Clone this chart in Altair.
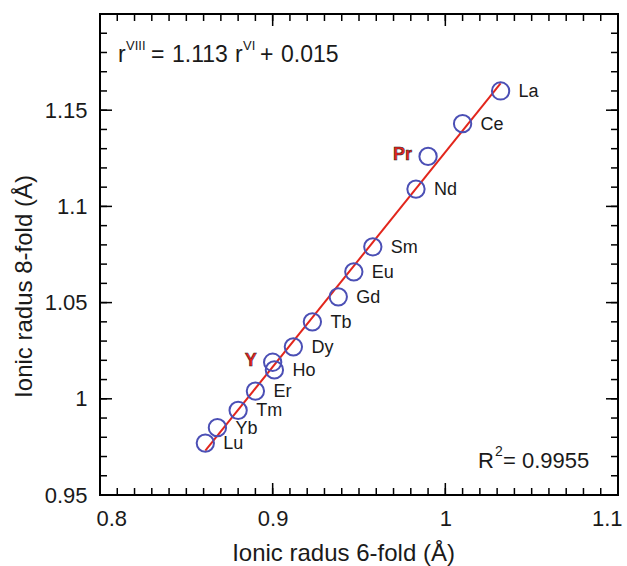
import altair as alt
import pandas as pd
import numpy as np

FONT = "Liberation Sans"

# ---- data ----
elements = ["La", "Ce", "Pr", "Nd", "Sm", "Eu", "Gd", "Tb", "Dy", "Ho", "Er", "Tm", "Yb", "Lu", "Y"]
r6 = [1.032, 1.010, 0.990, 0.983, 0.958, 0.947, 0.938, 0.923, 0.912, 0.901, 0.890, 0.880, 0.868, 0.861, 0.900]
r8 = [1.160, 1.143, 1.126, 1.109, 1.079, 1.066, 1.053, 1.040, 1.027, 1.015, 1.004, 0.994, 0.985, 0.977, 1.019]
highlighted = ["Pr", "Y"]

fit_x = [0.861, 1.032]
fit_y = [0.973, 1.164]

x_major = [0.8, 0.9, 1.0, 1.1]
y_major = [0.95, 1.0, 1.05, 1.1, 1.15]
x_minor = [round(v, 2) for v in np.arange(0.81, 1.1, 0.01)]
y_minor = [round(v, 2) for v in np.arange(0.96, 1.2, 0.01)]

X_DOMAIN = [0.8, 1.1]
Y_DOMAIN = [0.95, 1.2]

W, H = 518, 481
MAJ, MIN = 12, 7

pts = pd.DataFrame({"el": elements, "r6": r6, "r8": r8})
pts["hl"] = pts["el"].isin(highlighted)
fit = pd.DataFrame({"x": fit_x, "y": fit_y})

xs = alt.Scale(domain=X_DOMAIN, nice=False, zero=False)
ys = alt.Scale(domain=Y_DOMAIN, nice=False, zero=False)

base = alt.Chart(pts)

points = base.mark_point(shape="circle", filled=False, size=300, strokeWidth=2,
                         color="#4b4fb5", opacity=1).encode(
    x=alt.X("r6:Q", scale=xs,
            axis=alt.Axis(values=x_major, format="~g", title="Ionic radus 6-fold (Å)",
                          ticks=False, tickSize=0, domain=False, grid=False,
                          labelFont=FONT, labelFontSize=22, labelColor="#1a1a1a",
                          labelPadding=13, labelFlush=True, labelFlushOffset=4,
                          titleFont=FONT, titleFontSize=24, titleFontWeight="normal",
                          titleColor="#1a1a1a", titleX=243, titleY=65,
                          titleAlign="center", titleBaseline="alphabetic")),
    y=alt.Y("r8:Q", scale=ys,
            axis=alt.Axis(values=y_major, format="~g", title="Ionic radus 8-fold (Å)",
                          ticks=False, tickSize=0, domain=False, grid=False,
                          labelFont=FONT, labelFontSize=22, labelColor="#1a1a1a",
                          labelPadding=13,
                          titleFont=FONT, titleFontSize=24, titleFontWeight="normal",
                          titleColor="#1a1a1a", titleX=-76, titleY=272,
                          titleAngle=270, titleAlign="center", titleBaseline="middle")),
)

line = alt.Chart(fit).mark_line(color="#e2261c", strokeWidth=2).encode(
    x=alt.X("x:Q", scale=xs), y=alt.Y("y:Q", scale=ys))

labels = base.transform_filter("!datum.hl").mark_text(
    align="left", baseline="middle", dx=18, dy=1, font=FONT, fontSize=18, color="#1a1a1a"
).encode(x=alt.X("r6:Q", scale=xs), y=alt.Y("r8:Q", scale=ys), text="el:N")

hl_labels = base.transform_filter("datum.hl").mark_text(
    align="right", baseline="middle", dx=-16, dy=-1, font=FONT, fontSize=18, fontWeight="bold",
    fill="#e8231c", stroke="#222222", strokeWidth=0.5
).encode(x=alt.X("r6:Q", scale=xs), y=alt.Y("r8:Q", scale=ys), text="el:N")


def xticks(vals, length):
    d = pd.DataFrame({"v": vals})
    bottom = alt.Chart(d).mark_rule(color="black", strokeWidth=1.5).encode(
        x=alt.X("v:Q", scale=xs), y=alt.value(H), y2=alt.value(H - length))
    top = alt.Chart(d).mark_rule(color="black", strokeWidth=1.5).encode(
        x=alt.X("v:Q", scale=xs), y=alt.value(0), y2=alt.value(length))
    return [bottom, top]


def yticks(vals, length):
    d = pd.DataFrame({"v": vals})
    left = alt.Chart(d).mark_rule(color="black", strokeWidth=1.5).encode(
        y=alt.Y("v:Q", scale=ys), x=alt.value(0), x2=alt.value(length))
    right = alt.Chart(d).mark_rule(color="black", strokeWidth=1.5).encode(
        y=alt.Y("v:Q", scale=ys), x=alt.value(W), x2=alt.value(W - length))
    return [left, right]


one = pd.DataFrame({"a": [0]})


def txt(s, x, y, size, **kw):
    return alt.Chart(one).mark_text(text=s, align="left", baseline="alphabetic",
                                    font=FONT, fontSize=size, color="#1a1a1a", **kw).encode(
        x=alt.value(x), y=alt.value(y))


annotations = [
    txt("r", 18, 48, 23),
    txt("VIII", 26, 36, 13),
    txt("=", 51, 48, 23),
    txt("1.113", 72, 48, 23),
    txt("r", 135, 48, 23),
    txt("VI", 143, 36, 13),
    txt("+", 160, 48, 23),
    txt("0.015", 181, 48, 23),
    txt("R", 378, 454, 22),
    txt("2", 395, 442, 14),
    txt("= 0.9955", 403, 454, 22),
]

layers = ([line, points, labels, hl_labels]
          + xticks(x_major, MAJ) + xticks(x_minor, MIN)
          + yticks(y_major, MAJ) + yticks(y_minor, MIN)
          + annotations)

chart = alt.layer(*layers).properties(
    width=W, height=H,
    autosize=alt.AutoSizeParams(type="none"),
    padding={"left": 100, "top": 14, "right": 9, "bottom": 71},
    background="white",
).configure_view(stroke="black", strokeWidth=2)

chart.save("out.html", embed_options={"renderer": "svg", "actions": False})
